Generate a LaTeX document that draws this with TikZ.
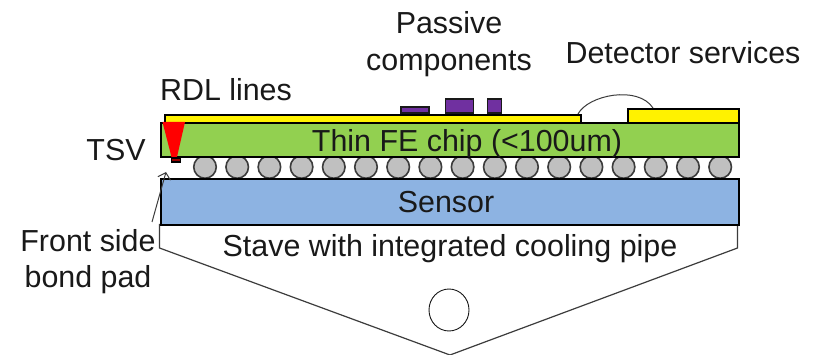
\documentclass[tikz,border=0pt]{standalone}
\usepackage{fontspec}
\setmainfont{Liberation Sans}
\usetikzlibrary{arrows.meta,shapes.geometric}
\definecolor{chipgreen}{RGB}{146,208,80}
\definecolor{sensorblue}{RGB}{141,179,226}
\definecolor{passive}{RGB}{112,48,160}
\definecolor{ballgray}{RGB}{192,192,192}
\definecolor{ink}{RGB}{25,25,25}
\tikzset{
  lbl/.style={inner sep=0pt,font=\fontsize{30.4}{33}\selectfont,text=ink},
  layer/.style={draw=black,line width=2.4pt},
  comp/.style={draw=ink,line width=1.8pt,fill=passive},
  ball/.style={circle,draw=ink!85,line width=1.6pt,fill=ballgray,minimum size=22.5pt,inner sep=0pt},
  thin/.style={draw=ink!85,line width=1pt},
}
\begin{document}
\begin{tikzpicture}[x=1pt,y=-1pt]
\useasboundingbox (0,0) rectangle (814,355);
\fill[white] (0,0) rectangle (814,355);
% stave
\coordinate (sl) at (159.5,224);
\coordinate (sl2) at (159.5,248);
\coordinate (sb) at (450,355);
\coordinate (sr2) at (737.5,248);
\coordinate (sr) at (737.5,224);
\draw[thin,line width=1.2pt] (sl) -- (sl2) -- (sb) -- (sr2) -- (sr);
\node[draw=ink,line width=0.9pt,ellipse,minimum width=40pt,minimum height=42pt,inner sep=0pt] (pipe) at (449,310) {};
% balls
\foreach \k in {0,...,16}{
  \node[ball] (b\k) at ({205+32.2*\k},167) {};
}
% passive components
\node[comp,anchor=south west,minimum width=28pt,minimum height=6pt,inner sep=0pt] (p1) at (400,114) {};
\node[comp,anchor=south west,minimum width=28pt,minimum height=14pt,inner sep=0pt] (p2) at (444.5,114) {};
\node[comp,anchor=south west,minimum width=14pt,minimum height=14pt,inner sep=0pt] (p3) at (486.5,114) {};
% RDL
\node[layer,fill=yellow,anchor=north west,minimum width=416pt,minimum height=8pt,inner sep=0pt,line width=2pt] (rdl) at (163.5,114) {};
\node[layer,fill=yellow,anchor=north west,minimum width=111pt,minimum height=14pt,inner sep=0pt,line width=2pt] (svc) at (626.5,108) {};
% wire
\coordinate (w1) at (578,114);
\coordinate (w2) at (653,108);
\draw[thin] (w1) .. controls (588,95) and (638,85) .. (w2);
% chip
\node[layer,fill=chipgreen,anchor=north west,minimum width=578pt,minimum height=34pt,inner sep=0pt] (chip) at (159.5,122) {};
% sensor
\node[layer,fill=sensorblue,anchor=north west,minimum width=578pt,minimum height=46pt,inner sep=0pt] (sensor) at (159.5,178) {};
% TSV
\fill[red] (162.5,122) -- (185,122) -- (177,157) -- (171.5,157) -- cycle;
\node[draw=black,fill=red!60!black,line width=1.6pt,anchor=north west,minimum width=9pt,minimum height=4pt,inner sep=0pt] (pad) at (170.5,157) {};
% labels
\node[lbl] (tpass) at (449,23) {Passive};
\node[lbl] (tcomp) at (449,64) {components};
\node[lbl] (tdet) at (683,53) {Detector services};
\node[lbl] (trdl) at (226,90) {RDL lines};
\node[lbl] (ttsv) at (116,150) {TSV};
\node[lbl] at (467,144) {Thin FE chip (<100um)};
\node[lbl] at (446,202) {Sensor};
\node[lbl] at (450,249) {Stave with integrated cooling pipe};
\node[lbl] (tfront) at (88,241) {Front side};
\node[lbl] (tbond) at (88,280) {bond pad};
\coordinate (af) at (152,222);
\coordinate (at) at (166,172);
\draw[thin,-{Straight Barb[length=6pt,width=13pt]}] (af) -- (at);
\end{tikzpicture}
\end{document}
